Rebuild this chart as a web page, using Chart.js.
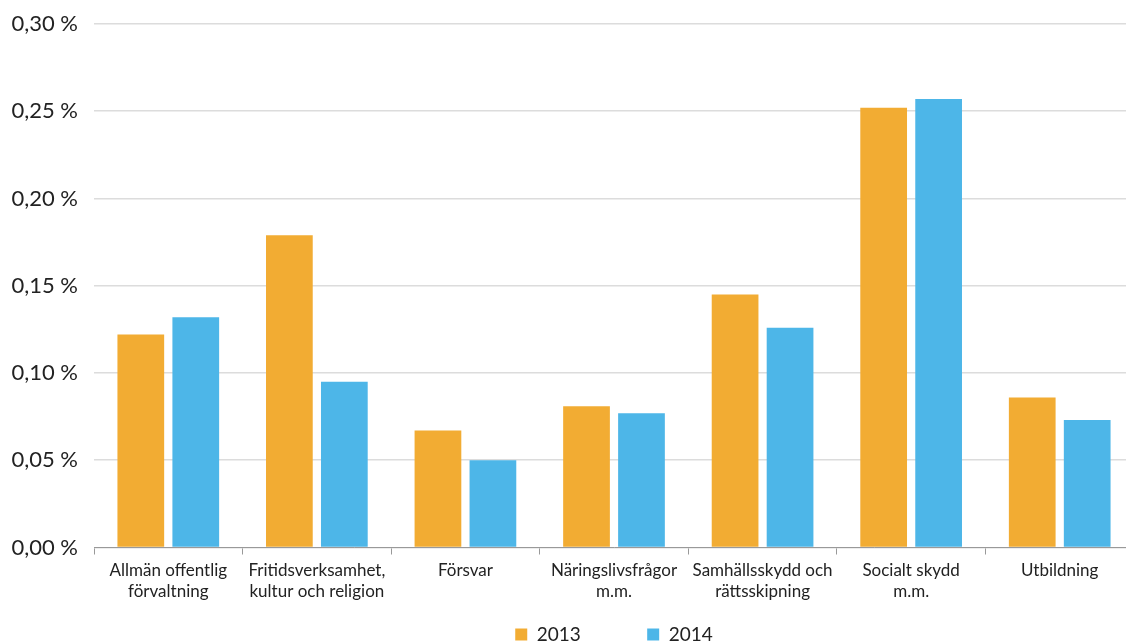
<!DOCTYPE html>
<html>
<head>
<meta charset="utf-8">
<script src="https://cdn.jsdelivr.net/npm/chart.js@4/dist/chart.umd.min.js"></script>
<style>
  html, body { margin: 0; padding: 0; background: #fff; overflow: hidden; }
  #wrap { width: 1134px; height: 642px; position: relative; }
</style>
</head>
<body>
<div id="wrap"><canvas id="chart"></canvas></div>
<script>
const categories = [
  ['Allmän offentlig', 'förvaltning'],
  ['Fritidsverksamhet,', 'kultur och religion'],
  'Försvar',
  ['Näringslivsfrågor', 'm.m.'],
  ['Samhällsskydd och', 'rättsskipning'],
  ['Socialt skydd', 'm.m.'],
  'Utbildning'
];
const values2013 = [0.122, 0.179, 0.067, 0.081, 0.145, 0.252, 0.086];
const values2014 = [0.132, 0.095, 0.050, 0.077, 0.126, 0.257, 0.073];
const yTicks = [0, 0.05, 0.10, 0.15, 0.20, 0.25, 0.30];

const orange = '#f2ac33';
const blue = '#4db6e8';

Chart.defaults.font.family = 'Lato, "Open Sans", sans-serif';
Chart.defaults.color = '#222';

new Chart(document.getElementById('chart'), {
  type: 'bar',
  data: {
    labels: categories,
    datasets: [
      { label: '2013', data: values2013, backgroundColor: orange },
      { label: '2014', data: values2014, backgroundColor: blue }
    ]
  },
  options: {
    responsive: true,
    maintainAspectRatio: false,
    animation: false,
    datasets: { bar: { categoryPercentage: 0.74, barPercentage: 0.85 } },
    layout: { padding: { top: 24, left: 10, right: 0, bottom: -12 } },
    plugins: {
      legend: {
        position: 'bottom',
        fullSize: false,
        labels: {
          boxWidth: 12,
          boxHeight: 12,
          padding: 8,
          font: { size: 19 },
          color: '#222',
          // extra room between the two legend entries
          generateLabels: chart => {
            const items = Chart.defaults.plugins.legend.labels.generateLabels(chart);
            items[0].text = items[0].text + '            ';
            return items;
          }
        }
      },
      tooltip: { enabled: false }
    },
    scales: {
      x: {
        afterFit: axis => { axis.height += 10; },
        grid: {
          offset: true,
          drawOnChartArea: false,
          tickLength: 7,
          color: '#999'
        },
        border: { color: '#999' },
        ticks: {
          font: { size: 17, lineHeight: 1.25 },
          color: '#222',
          maxRotation: 0,
          autoSkip: false,
          padding: 5
        }
      },
      y: {
        min: 0,
        max: 0.30,
        afterBuildTicks: axis => { axis.ticks = yTicks.map(v => ({ value: v })); },
        afterFit: axis => {
          axis.width = 84;
          axis.paddingTop = 0;
          axis.paddingBottom = 0;
        },
        grid: { color: '#dcdcdc', lineWidth: 1.5, drawTicks: false },
        border: { display: false },
        ticks: {
          font: { size: 22 },
          color: '#222',
          padding: 16,
          callback: v => v.toFixed(2).replace('.', ',') + ' %'
        }
      }
    }
  }
});
</script>
</body>
</html>
